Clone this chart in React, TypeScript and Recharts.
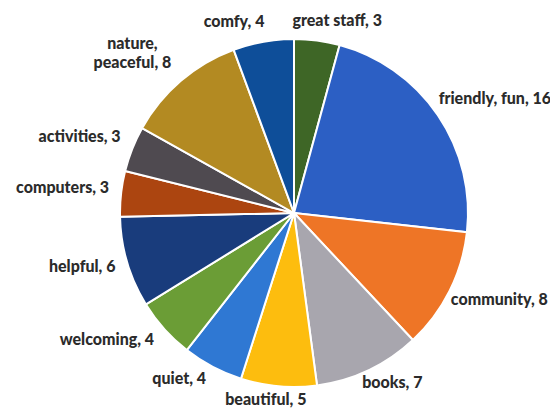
import React from 'react';
import { PieChart, Pie, Cell } from 'recharts';

const categories = ['great staff', 'friendly, fun', 'community', 'books', 'beautiful', 'quiet', 'welcoming', 'helpful', 'computers', 'activities', 'nature, peaceful', 'comfy'];
const counts = [3, 16, 8, 7, 5, 4, 4, 6, 3, 3, 8, 4];
const colors = ['#3e6626', '#2c5fc4', '#ee7526', '#a8a6ae', '#fdbd0e', '#2f78d3', '#6b9d36', '#193c7c', '#ac4510', '#4f4a50', '#b38a22', '#0e4e99'];
const wrapped = ['nature, peaceful'];

const data = categories.map((name, i) => ({ name, value: counts[i] }));

const FONT = '900 16px Lato';
const LH = 19;
const CX = 281;
const CY = 200;
const R = 174;
const GAP = 7;

let ctx: CanvasRenderingContext2D | null = null;
const measure = (t: string) => {
  if (!ctx) ctx = document.createElement('canvas').getContext('2d');
  if (!ctx) return t.length * 8;
  ctx.font = FONT;
  return ctx.measureText(t).width;
};

const RAD = Math.PI / 180;
const clamp = (v: number) => Math.max(-1, Math.min(1, v));

const labelLines = (name: string, value: number) => {
  if (wrapped.includes(name)) {
    const idx = name.indexOf(',');
    return [name.slice(0, idx + 1), `${name.slice(idx + 2)}, ${value}`];
  }
  return [`${name}, ${value}`];
};

type Box = { x: number; y: number; w: number; h: number; lines: string[] };

const computeBoxes = (): Box[] => {
  const total = counts.reduce((a, b) => a + b, 0);
  let cum = 0;
  const boxes: Box[] = data.map((d) => {
    const mid = 90 - ((cum + d.value / 2) / total) * 360;
    cum += d.value;
    const lines = labelLines(d.name, d.value);
    const w = Math.max(...lines.map(measure));
    const h = lines.length * LH;
    const cos = Math.cos(mid * RAD);
    const sin = Math.sin(mid * RAD);
    const ex = CX + (R + GAP) * cos;
    const ey = CY - (R + GAP) * sin;
    return { x: ex + (w / 2) * clamp(cos * 2), y: ey - (h / 2) * clamp(sin * 2), w, h, lines };
  });
  // resolve horizontal overlaps between neighbouring labels
  for (let iter = 0; iter < 10; iter++) {
    for (let i = 0; i < boxes.length; i++) {
      const a = boxes[i];
      const b = boxes[(i + 1) % boxes.length];
      const overlapY = Math.abs(a.y - b.y) < (a.h + b.h) / 2;
      const needed = (a.w + b.w) / 2 + 28;
      const dist = Math.abs(a.x - b.x);
      if (overlapY && dist < needed) {
        const push = (needed - dist) / 2;
        if (a.x < b.x) { a.x -= push; b.x += push; } else { a.x += push; b.x -= push; }
      }
    }
  }
  return boxes;
};

let boxesCache: Box[] | null = null;

const renderLabel = (props: any) => {
  if (!boxesCache) boxesCache = computeBoxes();
  const b = boxesCache[props.index];
  if (!b) return null;
  const y0 = b.y - (b.h - LH) / 2;
  return (
    <text x={b.x} y={y0} textAnchor="middle" dominantBaseline="central" fill="#2b2b2b" style={{ font: FONT }}>
      {b.lines.map((l, i) => (
        <tspan key={i} x={b.x} y={y0 + i * LH}>{l}</tspan>
      ))}
    </text>
  );
};

export default function App() {
  return (
    <PieChart width={550} height={400}>
      <Pie
        data={data}
        dataKey="value"
        nameKey="name"
        cx={CX}
        cy={CY}
        outerRadius={R}
        startAngle={90}
        endAngle={-270}
        stroke="#ffffff"
        strokeWidth={2}
        label={renderLabel}
        labelLine={false}
        isAnimationActive={false}
      >
        {data.map((d, i) => (
          <Cell key={d.name} fill={colors[i]} />
        ))}
      </Pie>
    </PieChart>
  );
}
